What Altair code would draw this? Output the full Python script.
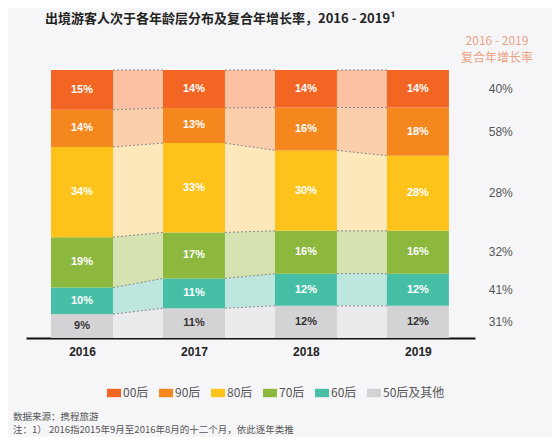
import altair as alt
import pandas as pd

# ---------------- data ----------------
years = ["2016", "2017", "2018", "2019"]
groups = ["00后", "90后", "80后", "70后", "60后", "50后及其他"]
share_00 = [15, 14, 14, 14]
share_90 = [14, 13, 16, 18]
share_80 = [34, 33, 30, 28]
share_70 = [19, 17, 16, 16]
share_60 = [10, 11, 12, 12]
share_50 = [9, 11, 12, 12]
cagr = ["40%", "58%", "28%", "32%", "41%", "31%"]
title_text = "出境游客人次于各年龄层分布及复合年增长率，2016 - 2019¹"
header_lines = ["2016 - 2019", "复合年增长率"]
note_lines = ["数据来源：携程旅游",
              "注：1） 2016指2015年9月至2016年8月的十二个月，依此逐年类推"]

colors = ["#f26522", "#f5871f", "#fdc31a", "#8cb83e", "#46bfa6", "#d3d3d6"]
light = ["#fbc1a2", "#fbcfab", "#fde8bc", "#d5e2b1", "#bde6de", "#ebebee"]

FONT = "Liberation Sans, Noto Sans CJK SC, sans-serif"
CJK = "Noto Sans CJK SC, sans-serif"
HW = 0.277          # bar half width in x units
CAGR_X = 3.74       # column of growth rates, in x units

shares = [share_00, share_90, share_80, share_70, share_60, share_50]

rows = []
for i, yr in enumerate(years):
    total = sum(s[i] for s in shares)
    base = 0.0
    for g, s in reversed(list(zip(groups, shares))):
        lo = base
        hi = base + s[i] * 100.0 / total
        rows.append(dict(year=yr, idx=i, group=g, val=s[i], lo=lo, hi=hi,
                         mid=(lo + hi) / 2, label=f"{s[i]}%"))
        base = hi
bars = pd.DataFrame(rows)
bars["x0"] = bars["idx"] - HW
bars["x1"] = bars["idx"] + HW

conn_rows = []
for i in range(len(years) - 1):
    for g in groups:
        a = bars[(bars.idx == i) & (bars.group == g)].iloc[0]
        b = bars[(bars.idx == i + 1) & (bars.group == g)].iloc[0]
        seg = f"{i}-{g}"
        conn_rows.append(dict(seg=seg, group=g, x=i + HW, lo=a.lo, hi=a.hi))
        conn_rows.append(dict(seg=seg, group=g, x=i + 1 - HW, lo=b.lo, hi=b.hi))
conn = pd.DataFrame(conn_rows)

last = bars[bars.idx == len(years) - 1].copy()
last["cagr"] = last["group"].map(dict(zip(groups, cagr)))
last["cx"] = CAGR_X

head = pd.DataFrame({"t": header_lines, "line": [0, 1]})
notes = pd.DataFrame({"t": note_lines, "line": [0, 1]})
ttl = pd.DataFrame({"t": [title_text]})

# ---------------- scales / axes ----------------
xscale = alt.Scale(domain=[-0.5, 3.51], nice=False, zero=False)
yscale = alt.Scale(domain=[0, 100], nice=False, zero=True)
xaxis = alt.Axis(values=[0, 1, 2, 3], labelExpr=f"{years}[datum.value]",
                 title=None, ticks=False, grid=False, domainColor="#111",
                 domainWidth=2, labelFont=FONT, labelFontSize=12,
                 labelFontWeight="bold", labelColor="#222", labelPadding=8)

areas = alt.Chart(conn).mark_area(opacity=1).encode(
    x=alt.X("x:Q", scale=xscale, axis=xaxis),
    y=alt.Y("lo:Q", scale=yscale, axis=None),
    y2="hi:Q",
    color=alt.Color("group:N", scale=alt.Scale(domain=groups, range=light), legend=None),
    detail="seg:N",
)

dashes = alt.Chart(conn).mark_line(strokeDash=[2, 2], strokeWidth=0.9, color="#7a7a7a").encode(
    x=alt.X("x:Q", scale=xscale, axis=xaxis),
    y=alt.Y("hi:Q", scale=yscale, axis=None),
    detail="seg:N",
)

rects = alt.Chart(bars).mark_rect().encode(
    x=alt.X("x0:Q", scale=xscale, axis=xaxis),
    x2="x1:Q",
    y=alt.Y("lo:Q", scale=yscale, axis=None),
    y2="hi:Q",
    color=alt.Color("group:N", scale=alt.Scale(domain=groups, range=colors),
                    sort=groups,
                    legend=alt.Legend(title=None, orient="none", direction="horizontal",
                                      legendX=81, legendY=316,
                                      symbolType="M-1,-0.6H1V0.6H-1Z", symbolSize=196,
                                      symbolStrokeWidth=0, labelFont=CJK, labelFontSize=12,
                                      labelColor="#555", labelOffset=2, columnPadding=10)),
)

labels = alt.Chart(bars).mark_text(font=FONT, fontSize=11, fontWeight="bold").encode(
    x=alt.X("idx:Q", scale=xscale, axis=xaxis),
    y=alt.Y("mid:Q", scale=yscale, axis=None),
    text="label:N",
    color=alt.condition(alt.datum.group == "50后及其他", alt.value("#333333"), alt.value("#ffffff")),
)

growth = alt.Chart(last).mark_text(font=FONT, fontSize=12, color="#555555").encode(
    x=alt.X("cx:Q", scale=xscale, axis=xaxis),
    y=alt.Y("mid:Q", scale=yscale, axis=None),
    text="cagr:N",
)

header = alt.Chart(head).mark_text(font=CJK, fontSize=12, color="#eba284").encode(
    x=alt.value(471),
    y=alt.Y("line:Q", scale=alt.Scale(domain=[0, 1], range=[-29, -12]), axis=None),
    text="t:N",
)

note = alt.Chart(notes).mark_text(font=CJK, fontSize=9.5, color="#555555", align="left").encode(
    x=alt.value(-13),
    y=alt.Y("line:Q", scale=alt.Scale(domain=[0, 1], range=[347, 360]), axis=None),
    text="t:N",
)

title = alt.Chart(ttl).mark_text(font=CJK, fontSize=13, fontWeight="bold", color="#222222",
                                 align="left").encode(
    x=alt.value(19),
    y=alt.value(-51),
    text="t:N",
)

chart = alt.layer(areas, dashes, rects, labels, growth, header, note, title).resolve_scale(
    color="independent", y="independent"
).properties(
    width=449,
    height=268,
    autosize=alt.AutoSizeParams(type="none"),
    padding={"left": 18, "top": 62, "right": 77, "bottom": 99},
    background="#f6f6f8",
).configure_view(stroke=None)

chart.save("out.html", embed_options={"renderer": "svg", "actions": False})
